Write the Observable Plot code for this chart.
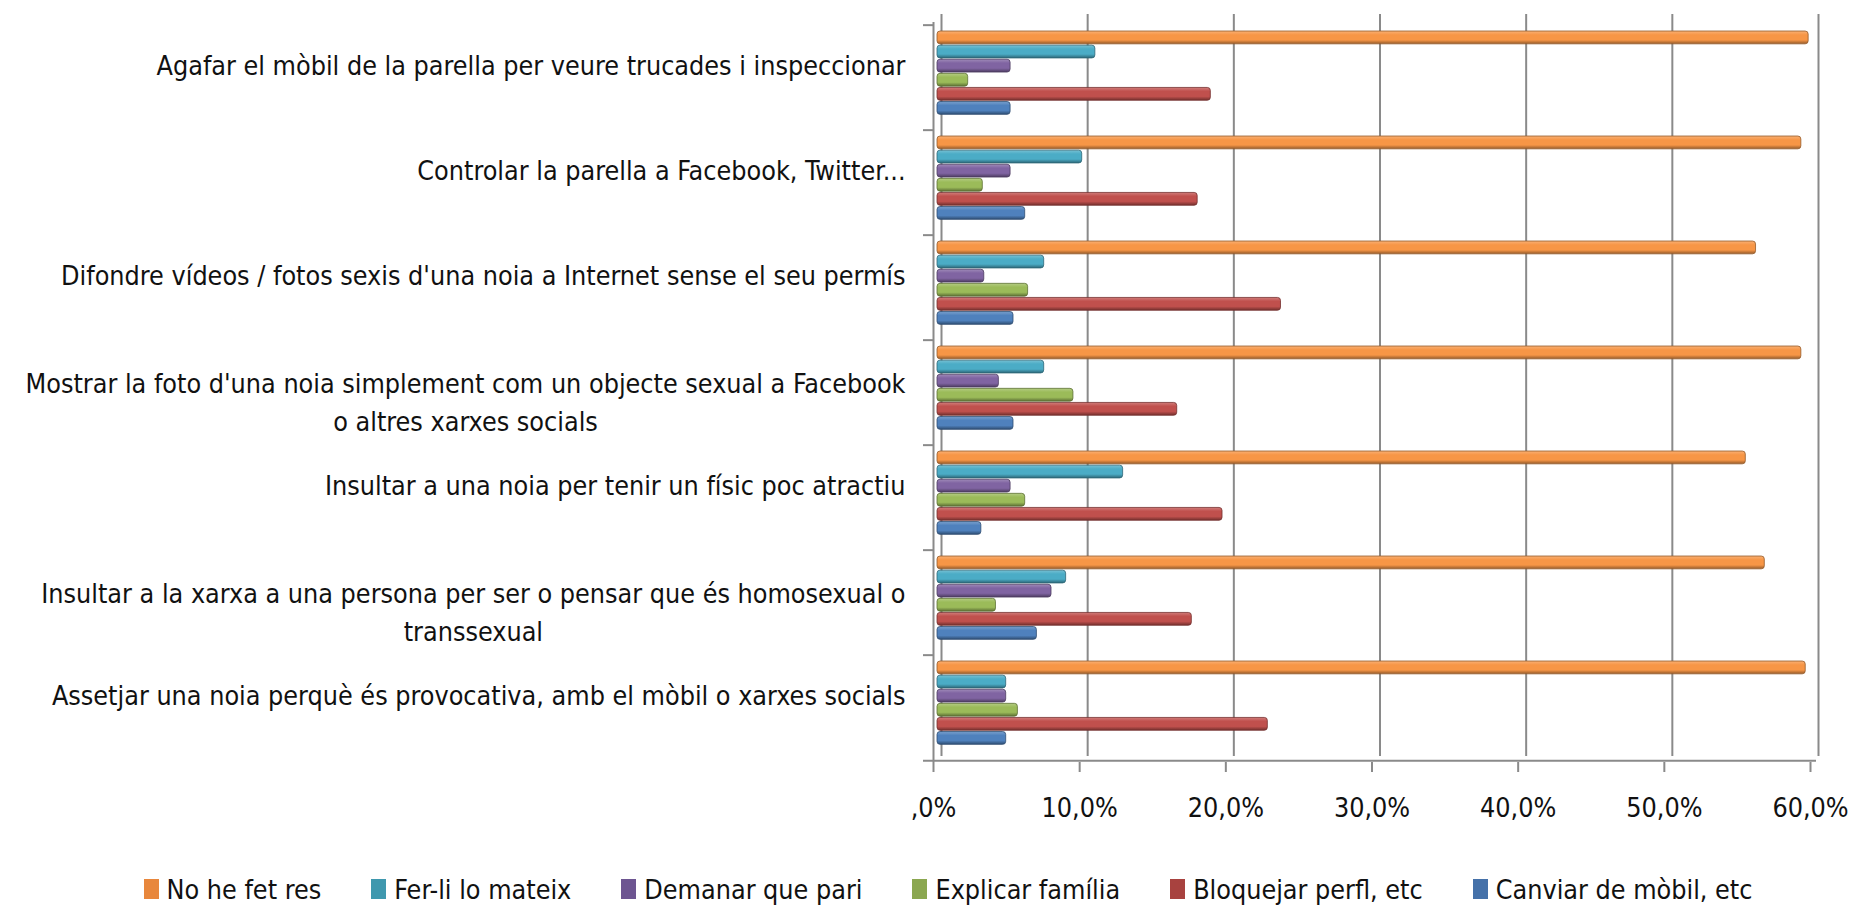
<!DOCTYPE html>
<html>
<head>
<meta charset="utf-8">
<script src="https://cdn.jsdelivr.net/npm/d3@7"></script>
<script src="https://cdn.jsdelivr.net/npm/@observablehq/plot@0.6"></script>
<style>
  html, body { margin: 0; padding: 0; background: #fff; }
  body { width: 1858px; height: 908px; overflow: hidden;
         font-family: "DejaVu Sans Condensed", "DejaVu Sans", sans-serif; font-stretch: condensed; }
  #legend { display: flex; justify-content: center; align-items: center; height: 38px; padding-top: 12px; padding-left: 38px;
            font-size: 26.7px; color: #111; }
  .item { display: flex; align-items: center; margin: 0 25px; white-space: nowrap; }
  .sw { width: 15px; height: 20px; margin-right: 8px; }
</style>
</head>
<body>
<div id="chart"></div>
<div id="legend"></div>
<script>
// ---- data ----
const categories = [
  "Agafar el mòbil de la parella per veure trucades i inspeccionar",
  "Controlar la parella a Facebook, Twitter...",
  "Difondre vídeos / fotos sexis d'una noia a Internet sense el seu permís",
  "Mostrar la foto d'una noia simplement com un objecte sexual a Facebook\no altres xarxes socials",
  "Insultar a una noia per tenir un físic poc atractiu",
  "Insultar a la xarxa a una persona per ser o pensar que és homosexual o\ntranssexual",
  "Assetjar una noia perquè és provocativa, amb el mòbil o xarxes socials"
];
const seriesNames = ["No he fet res", "Fer-li lo mateix", "Demanar que pari", "Explicar família", "Bloquejar perfl, etc", "Canviar de mòbil, etc"];
const barColors = ["#F79646", "#4BACC6", "#8064A2", "#9BBB59", "#C0504D", "#4F81BD"];
const legendColors = ["#E8873C", "#3F98AE", "#6D5591", "#8BA750", "#A8423F", "#4571A9"];
const noHeFetRes      = [59.6, 59.1, 56.0, 59.1, 55.3, 56.6, 59.4];
const ferliLoMateix   = [10.8,  9.9,  7.3,  7.3, 12.7,  8.8,  4.7];
const demanarQuePari  = [ 5.0,  5.0,  3.2,  4.2,  5.0,  7.8,  4.7];
const explicarFamilia = [ 2.1,  3.1,  6.2,  9.3,  6.0,  4.0,  5.5];
const bloquejarPerfil = [18.7, 17.8, 23.5, 16.4, 19.5, 17.4, 22.6];
const canviarMobil    = [ 5.0,  6.0,  5.2,  5.2,  3.0,  6.8,  4.7];
const seriesValues = [noHeFetRes, ferliLoMateix, demanarQuePari, explicarFamilia, bloquejarPerfil, canviarMobil];
const xTicks = [0, 10, 20, 30, 40, 50, 60];

// ---- layout ----
const W = 1858, H = 858;
const mL = 937, mR = 44, mT = 22, mB = 96;
const bw = (H - mT - mB) / categories.length;
const FONT = '"DejaVu Sans Condensed", "DejaVu Sans", sans-serif';
const FS = 26.7;
const gridColor = "#8a8a8a";

function measure(str) {
  const ns = "http://www.w3.org/2000/svg";
  const s = document.createElementNS(ns, "svg");
  s.style.position = "absolute"; s.style.visibility = "hidden";
  const t = document.createElementNS(ns, "text");
  t.setAttribute("font-family", FONT); t.setAttribute("font-size", FS);
  t.style.fontStretch = "condensed";
  t.textContent = str; s.appendChild(t); document.body.appendChild(s);
  const w = t.getComputedTextLength(); s.remove(); return w;
}

const rows = [];
seriesNames.forEach((s, i) => categories.forEach((c, j) => rows.push({category: c, series: s, si: i, value: seriesValues[i][j]})));

const barMarks = seriesNames.map((s, i) => {
  const top = bw * (0.057 + i * 0.1334);
  const h = bw * 0.128;
  const dark = d3.interpolateRgb(barColors[i], "#000")(0.4);
  return Plot.barX(rows.filter(r => r.si === i), {
    x: "value", y: "category", fill: `url(#grad${i})`, stroke: dark, strokeWidth: 0.8, rx: 3,
    insetTop: top, insetBottom: bw - top - h
  });
});

const single = categories.filter(c => !c.includes("\n"));
const multi = categories.filter(c => c.includes("\n"));
const labelMarks = [
  Plot.text(single, {y: d => d, text: d => d, frameAnchor: "left", textAnchor: "end", dx: -32, dy: -12, fontSize: FS, fill: "#111"}),
  ...multi.map(c => {
    const w = d3.max(c.split("\n"), measure);
    return Plot.text([c], {y: d => d, text: d => d, frameAnchor: "left", textAnchor: "middle", dx: -32 - w / 2, dy: -12 + 0.7 * FS, lineHeight: 1.45, fontSize: FS, fill: "#111"});
  })
];

const plot = Plot.plot({
  width: W, height: H,
  marginLeft: mL, marginRight: mR, marginTop: mT, marginBottom: mB,
  style: {fontFamily: FONT, fontSize: FS + "px", fontStretch: "condensed", background: "#fff", overflow: "visible"},
  x: {domain: [0, 60], axis: null},
  y: {domain: categories, padding: 0, axis: null},
  marks: [
    Plot.ruleX(xTicks, {x: d => d, stroke: gridColor, strokeWidth: 2, insetTop: -8, insetBottom: 6, dx: 4}),
    Plot.ruleX([0], {x: d => d, stroke: gridColor, strokeWidth: 2, dx: -4}),
    Plot.ruleY(categories, {y: d => d, x1: 0, x2: 0, insetLeft: -14, insetRight: 4, dy: -bw / 2, stroke: gridColor, strokeWidth: 2}),
    Plot.ruleY([categories[categories.length - 1]], {y: d => d, x1: 0, x2: 60, insetLeft: -14, insetRight: -2, dy: bw / 2, stroke: gridColor, strokeWidth: 2}),
    ...barMarks,
    Plot.axisX(xTicks, {anchor: "bottom", tickSize: 10, tickPadding: 26, dx: -4, stroke: gridColor, strokeWidth: 2, fill: "#111",
      fontSize: FS, tickFormat: d => (d === 0 ? "" : d) + ",0%", label: null}),
    ...labelMarks
  ]
});

// gradients for the cylinder look
const ns = "http://www.w3.org/2000/svg";
const defs = document.createElementNS(ns, "defs");
barColors.forEach((c, i) => {
  const g = document.createElementNS(ns, "linearGradient");
  g.setAttribute("id", "grad" + i);
  g.setAttribute("x1", 0); g.setAttribute("y1", 0); g.setAttribute("x2", 0); g.setAttribute("y2", 1);
  const stops = [
    [0, d3.interpolateRgb(c, "#fff")(0.25)],
    [0.3, c],
    [0.7, c],
    [1, d3.interpolateRgb(c, "#000")(0.4)]
  ];
  stops.forEach(([o, col]) => {
    const s = document.createElementNS(ns, "stop");
    s.setAttribute("offset", o); s.setAttribute("stop-color", col);
    g.appendChild(s);
  });
  defs.appendChild(g);
});
plot.insertBefore(defs, plot.firstChild);
document.getElementById("chart").appendChild(plot);

// legend
const legend = d3.select("#legend");
seriesNames.forEach((s, i) => {
  const it = legend.append("div").attr("class", "item");
  it.append("div").attr("class", "sw").style("background", legendColors[i]);
  it.append("span").text(s);
});
</script>
</body>
</html>
